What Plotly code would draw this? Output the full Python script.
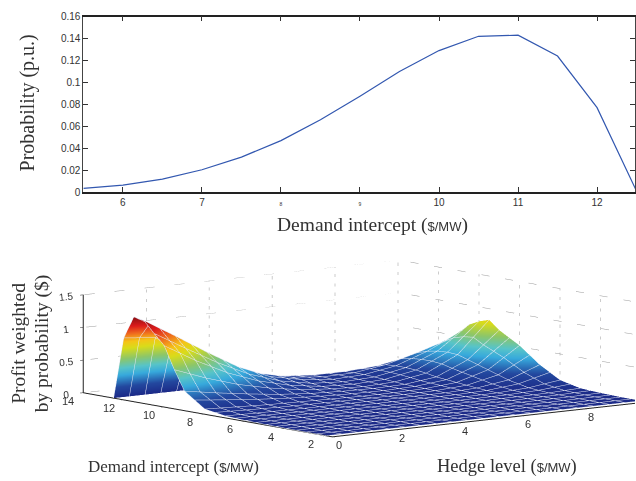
import plotly.graph_objects as go

# --- top panel ---
demand_x = [5.5, 6, 6.5, 7, 7.5, 8, 8.5, 9, 9.5, 10, 10.5, 11, 11.5, 12, 12.5]
probability = [0.0035, 0.0065, 0.012, 0.0205, 0.032, 0.047, 0.066, 0.0875, 0.110, 0.129, 0.142, 0.143, 0.124, 0.077, 0.001]
y_ticks = [0, 0.02, 0.04, 0.06, 0.08, 0.1, 0.12, 0.14, 0.16]
y_labels = ["0", "0.02", "0.04", "0.06", "0.08", "0.1", "0.12", "0.14", "0.16"]
x_ticks = [6, 7, 8, 9, 10, 11, 12]
x_labels = ["6", "7", "<span style='font-size:5px'>8</span>", "<span style='font-size:5px'>9</span>", "10", "11", "12"]

# --- bottom panel ---
hedge = [0, 1, 2, 3, 4, 5, 6, 7, 8, 9, 10]
intercept = [2, 3, 4, 5, 6, 7, 8, 9, 9.5, 10, 10.5, 11, 11.5, 12, 12.5]
z_02 = [0.0, 0.0, 0.0, 0.0, 0.0, 0.0, 0.0, 0.0, 0.0, 0.0, 0.0]
z_03 = [0.002, 0.002, 0.002, 0.002, 0.002, 0.002, 0.002, 0.002, 0.002, 0.002, 0.004]
z_04 = [0.004, 0.004, 0.003, 0.003, 0.003, 0.003, 0.003, 0.003, 0.004, 0.006, 0.012]
z_05 = [0.008, 0.007, 0.006, 0.005, 0.005, 0.005, 0.005, 0.005, 0.006, 0.012, 0.03]
z_06 = [0.015, 0.012, 0.01, 0.008, 0.007, 0.006, 0.006, 0.006, 0.01, 0.035, 0.1]
z_07 = [0.03, 0.02, 0.015, 0.01, 0.01, 0.01, 0.01, 0.01, 0.03, 0.1, 0.28]
z_08 = [0.08, 0.06, 0.04, 0.03, 0.02, 0.01, 0.01, 0.02, 0.06, 0.2, 0.52]
z_09 = [0.3, 0.22, 0.15, 0.09, 0.05, 0.03, 0.02, 0.03, 0.09, 0.3, 0.7]
z_095 = [0.6, 0.42, 0.27, 0.16, 0.08, 0.04, 0.02, 0.04, 0.12, 0.35, 0.83]
z_10 = [0.94, 0.66, 0.42, 0.24, 0.12, 0.05, 0.03, 0.05, 0.14, 0.36, 0.78]
z_105 = [1.1, 0.82, 0.55, 0.32, 0.16, 0.07, 0.04, 0.06, 0.15, 0.35, 0.7]
z_11 = [1.27, 0.98, 0.68, 0.4, 0.2, 0.1, 0.05, 0.07, 0.15, 0.32, 0.55]
z_115 = [1.3, 1.03, 0.72, 0.42, 0.22, 0.11, 0.06, 0.07, 0.14, 0.27, 0.42]
z_12 = [0.95, 0.9, 0.62, 0.36, 0.2, 0.1, 0.06, 0.06, 0.09, 0.17, 0.28]
z_125 = [0.0, 0.0, 0.0, 0.0, 0.0, 0.0, 0.0, 0.0, 0.0, 0.0, 0.0]
profit = [z_02, z_03, z_04, z_05, z_06, z_07, z_08, z_09, z_095, z_10, z_105, z_11, z_115, z_12, z_125]

hedge_ticks = [0, 2, 4, 6, 8]
intercept_ticks = [2, 4, 6, 8, 10, 12, 14]
z_ticks = [0, 0.5, 1, 1.5]

jet = [[0, "#1c2a88"], [0.13, "#23489f"], [0.27, "#37a9dc"], [0.36, "#57c4c9"], [0.47, "#8cc66a"],
       [0.6, "#d9dc1a"], [0.68, "#f5c518"], [0.78, "#ef6a1e"], [0.88, "#dd1c1c"], [1, "#8a0f12"]]

H_MAX, A_MIN, A_MAX, Z_MAX = 10, 1.7, 14, 1.5
SERIF = "Liberation Serif"
SANS = "Liberation Sans"

fig = go.Figure()
fig.add_trace(go.Scatter(x=demand_x, y=probability, mode="lines",
                         line=dict(color="#3358b0", width=1.2), showlegend=False, hoverinfo="skip"))

# dotted wall grid
gx, gy, gz = [], [], []
for t in [2, 4, 6, 8, 10]:
    gx += [t, t, None]; gy += [A_MAX, A_MAX, None]; gz += [0, Z_MAX, None]
for t in intercept_ticks[:-1]:
    gx += [H_MAX, H_MAX, None]; gy += [t, t, None]; gz += [0, Z_MAX, None]
for t in z_ticks:
    gx += [0, H_MAX, H_MAX, None]; gy += [A_MAX, A_MAX, A_MIN, None]; gz += [t, t, t, None]
fig.add_trace(go.Scatter3d(x=gx, y=gy, z=gz, mode="lines", showlegend=False, hoverinfo="skip",
                           line=dict(color="#999999", width=1, dash="dot")))

fig.add_trace(go.Surface(
    x=hedge, y=intercept, z=profit, colorscale=jet, cmin=0, cmax=1.3, showscale=False, hoverinfo="skip",
    lighting=dict(ambient=1, diffuse=0, specular=0, roughness=1, fresnel=0),
    contours=dict(
        x=dict(show=True, start=0, end=10, size=0.5, color="#e6e9f5", width=1),
        y=dict(show=True, start=2, end=12.5, size=0.5, color="#e6e9f5", width=1),
    ),
))

axis3d = dict(showbackground=False, showgrid=False, zeroline=False, showspikes=False,
              showline=True, linecolor="#222222", linewidth=2, ticks="outside", ticklen=4,
              tickcolor="#222222", title=dict(text=""),
              tickfont=dict(family=SANS, size=11, color="#333333"))

tick_font = dict(family=SANS, size=11, color="#333333")
scene_labels = []
for t in intercept_ticks:
    scene_labels.append(dict(x=0, y=t, z=0, text=str(t), showarrow=False, xshift=-15, yshift=-8, font=tick_font))
for t in hedge_ticks:
    scene_labels.append(dict(x=t, y=2, z=0, text=str(t), showarrow=False, xshift=13, yshift=-9, font=tick_font))

SCALE = 3.49
cx, cy, cz = -0.325, 0.257, -0.102
ex, ey, ez = -0.614 * 3, -0.776 * 3, 0.14 * 3

fig.update_layout(
    width=636, height=481, autosize=False, paper_bgcolor="white", plot_bgcolor="white",
    margin=dict(l=0, r=0, t=0, b=0), showlegend=False,
    xaxis=dict(domain=[83.5 / 636, 1], range=[5.5, 12.48], anchor="y", tickvals=x_ticks, ticktext=x_labels,
               ticks="inside", ticklen=5, tickcolor="#333333", showgrid=False, zeroline=False,
               showline=True, linecolor="#222222", linewidth=1.5, mirror="ticks",
               tickfont=dict(family=SANS, size=10, color="#333333")),
    yaxis=dict(domain=[1 - 191 / 481, 1 - 10.8 / 481], range=[0, 0.16], anchor="x", tickvals=y_ticks, ticktext=y_labels,
               ticks="inside", ticklen=5, tickcolor="#333333", showgrid=False, zeroline=False,
               showline=True, linecolor="#444444", linewidth=1, mirror="ticks",
               tickfont=dict(family=SANS, size=10, color="#333333")),
    scene=dict(
        domain=dict(x=[0, 1], y=[0, 1 - 245 / 481]),
        aspectmode="manual", aspectratio=dict(x=SCALE, y=SCALE, z=0.2465 * SCALE),
        annotations=scene_labels,
        xaxis=dict(axis3d, range=[0, H_MAX], tickvals=hedge_ticks, showticklabels=False),
        yaxis=dict(axis3d, range=[A_MIN, A_MAX], tickvals=intercept_ticks, showticklabels=False),
        zaxis=dict(axis3d, range=[0, Z_MAX], tickvals=z_ticks, ticktext=["0", "0.5", "1", "1.5"]),
        camera=dict(projection=dict(type="orthographic"),
                    eye=dict(x=cx + ex, y=cy + ey, z=cz + ez),
                    center=dict(x=cx, y=cy, z=cz), up=dict(x=0, y=0, z=1)),
    ),
)

def label(x, y, html, size=17, angle=0):
    fig.add_annotation(x=x / 636, y=1 - y / 481, xref="paper", yref="paper", text=html, showarrow=False,
                       textangle=angle, xanchor="center", yanchor="middle",
                       font=dict(family=SERIF, size=size, color="#333333"))

MW = "<span style='font-family:Liberation Sans;font-size:13px'>$/MW</span>"
label(373, 225, "Demand intercept (" + MW + ")", size=19.5)
label(28, 99, "Probability (p.u.)", size=20, angle=-90)
label(19, 345.5, "Profit weighted", size=19.5, angle=-90)
label(42, 346, "by probability ($)", size=19.5, angle=-90)
label(174, 472.5, "Demand intercept (" + MW + ")", size=17)
label(508, 472.5, "Hedge level (" + MW + ")", size=18.5)

fig.write_html("out.html", config=dict(displayModeBar=False), post_script="document.body.style.margin='0';document.documentElement.style.overflow='hidden';var gd=document.getElementById('{plot_id}');Plotly.relayout(gd,{width:636,height:481});")
